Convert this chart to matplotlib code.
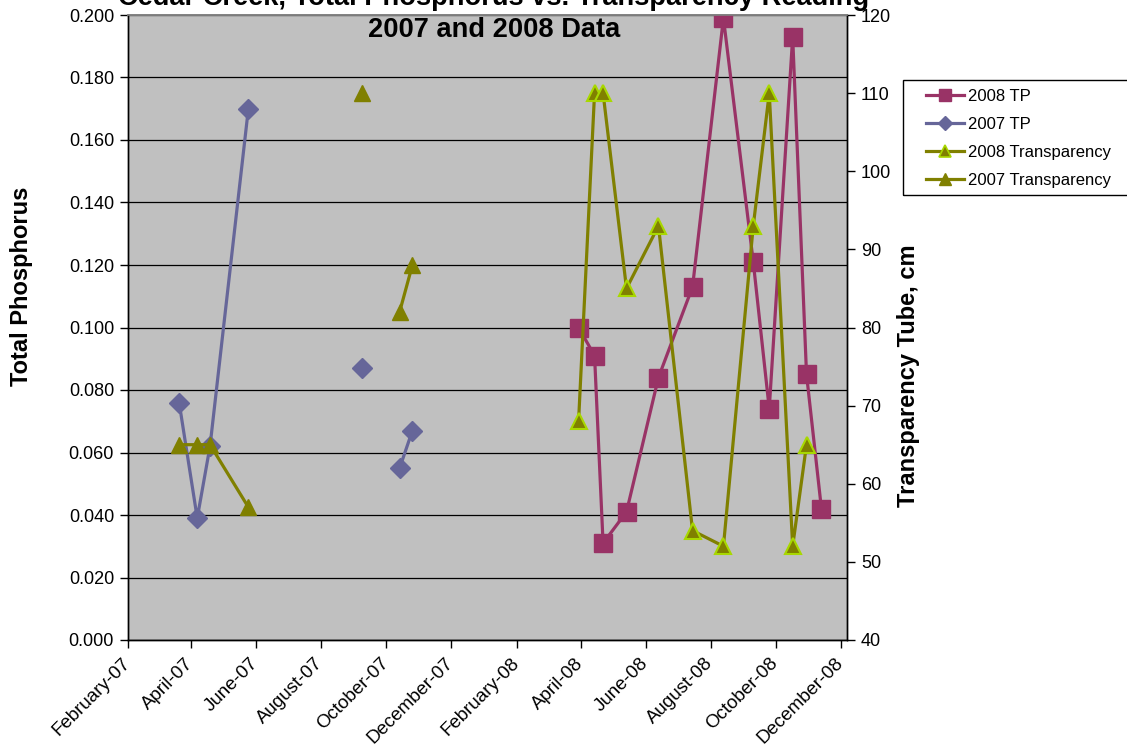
import numpy as np
import matplotlib
matplotlib.use("Agg")
import matplotlib.pyplot as plt
import matplotlib.dates as mdates
from matplotlib.lines import Line2D
from matplotlib.patches import Rectangle
from matplotlib.ticker import MultipleLocator, FormatStrFormatter

plt.rcParams['font.family'] = ['Liberation Sans', 'DejaVu Sans']

# ---- data -------------------------------------------------------------
# 2007 sampling dates (None = no reading, breaks the line)
dates_2007 = ['2007-03-21', '2007-04-07', '2007-04-19', '2007-05-25',
              '2007-07-15', '2007-09-09', '2007-09-25', '2007-10-14',
              '2007-10-26']
tp_2007 = [0.076, 0.039, 0.062, 0.170, None, 0.087, None, 0.055, 0.067]
transparency_2007 = [65, 65, 65, 57, None, 110, None, 82, 88]

dates_2008 = ['2008-03-30', '2008-04-14', '2008-04-22', '2008-05-14',
              '2008-06-13', '2008-07-15', '2008-08-13', '2008-09-10',
              '2008-09-25', '2008-10-17', '2008-10-30', '2008-11-13']
tp_2008 = [0.100, 0.091, 0.031, 0.041, 0.084, 0.113, 0.199, 0.121,
           0.074, 0.193, 0.085, 0.042]
transparency_2008 = [68, 110, 110, 85, 93, 54, 52, 93, 110, 52, 65, None]

series_labels = ['2008 TP', '2007 TP', '2008 Transparency', '2007 Transparency']
title_lines = ['Cedar Creek, Total Phosphorus vs. Transparency Reading',
               '2007 and 2008 Data']

# ---- styling ----------------------------------------------------------
C_TP08 = '#993366'
C_TP07 = '#666699'
C_TR = '#808000'
C_TR08_EDGE = '#A8D800'
PLOT_BG = '#C0C0C0'

W, H = 1127, 749
fig = plt.figure(figsize=(W / 100, H / 100), dpi=100)
fig.patch.set_facecolor('white')

# plot area in pixel terms -> figure fractions
L, R, T, B = 128, 847, 15, 640
ax = fig.add_axes([L / W, 1 - B / H, (R - L) / W, (B - T) / H])
ax.set_facecolor(PLOT_BG)
ax2 = ax.twinx()

d07 = np.array(dates_2007, dtype='datetime64[D]')
d08 = np.array(dates_2008, dtype='datetime64[D]')
tp07 = np.array(tp_2007, dtype=float)
tp08 = np.array(tp_2008, dtype=float)
tr07 = np.array(transparency_2007, dtype=float)
tr08 = np.array(transparency_2008, dtype=float)

lw = 2.3
ax.plot(d08, tp08, color=C_TP08, lw=lw, marker='s', ms=13,
        mfc=C_TP08, mec=C_TP08, zorder=3)
ax.plot(d07, tp07, color=C_TP07, lw=lw, marker='D', ms=10,
        mfc=C_TP07, mec=C_TP07, zorder=3)
ax2.plot(d08, tr08, color=C_TR, lw=lw, marker='^', ms=12,
         mfc=C_TR, mec=C_TR08_EDGE, mew=1.5, zorder=3)
ax2.plot(d07, tr07, color=C_TR, lw=lw, marker='^', ms=12,
         mfc=C_TR, mec=C_TR, zorder=3)

# primary axis
ax.set_ylim(0, 0.2)
ax.yaxis.set_major_locator(MultipleLocator(0.02))
ax.yaxis.set_major_formatter(FormatStrFormatter('%.3f'))
ax.yaxis.grid(True, color='black', lw=0.9)
ax.set_axisbelow(True)

# secondary axis
ax2.set_ylim(40, 120)
ax2.yaxis.set_major_locator(MultipleLocator(10))

# date axis
ax.set_xlim(np.datetime64('2007-02-01'), np.datetime64('2008-12-07'))
ax.xaxis.set_major_locator(mdates.MonthLocator(bymonth=[2, 4, 6, 8, 10, 12]))
ax.xaxis.set_major_formatter(mdates.DateFormatter('%B-%y'))

ax.tick_params(axis='both', direction='out', length=6, width=1,
               colors='black')
ax.tick_params(axis='x', pad=9, labelsize=13.5)
ax.tick_params(axis='y', pad=4, labelsize=13)
ax2.tick_params(axis='y', direction='out', length=6, width=1,
                labelsize=13, pad=4)
for lab in ax.get_xticklabels():
    lab.set_rotation(45)
    lab.set_ha('right')
    lab.set_va('center')
    lab.set_rotation_mode('anchor')

for a in (ax, ax2):
    for side in ('left', 'right', 'bottom'):
        a.spines[side].set_color('black')
        a.spines[side].set_linewidth(1)
    a.spines['top'].set_color('#808080')
    a.spines['top'].set_linewidth(1.2)

# titles
fig.text(494 / W, 1 - 5 / H, title_lines[0], ha='center', va='baseline',
         fontsize=19.6, fontweight='bold')
fig.text(494 / W, 1 - 37 / H, title_lines[1], ha='center', va='baseline',
         fontsize=19.6, fontweight='bold')

# axis titles
fig.text(22 / W, 1 - 286 / H, 'Total Phosphorus', rotation=90,
         ha='center', va='center', fontsize=17, fontweight='bold')
fig.text(908 / W, 1 - 376 / H, 'Transparency Tube, cm', rotation=90,
         ha='center', va='center', fontsize=17, fontweight='bold')

# legend
handles = [
    Line2D([], [], color=C_TP08, lw=lw, marker='s', ms=9, mfc=C_TP08, mec=C_TP08),
    Line2D([], [], color=C_TP07, lw=lw, marker='D', ms=7, mfc=C_TP07, mec=C_TP07),
    Line2D([], [], color=C_TR, lw=lw, marker='^', ms=9, mfc=C_TR,
           mec=C_TR08_EDGE, mew=1.2),
    Line2D([], [], color=C_TR, lw=lw, marker='^', ms=9, mfc=C_TR, mec=C_TR),
]
fig.legend(handles, series_labels, loc='upper left',
           bbox_to_anchor=(926 / W, 1 - 89 / H), frameon=False,
           fontsize=12, handlelength=2.3, handletextpad=0.2,
           labelspacing=0.78, borderpad=0, borderaxespad=0)
fig.add_artist(Rectangle((903 / W, 1 - 195 / H), 240 / W, 115 / H,
                         transform=fig.transFigure, fill=False,
                         edgecolor='black', lw=1, clip_on=False))

fig.savefig('out.png', dpi=100, facecolor='white')
